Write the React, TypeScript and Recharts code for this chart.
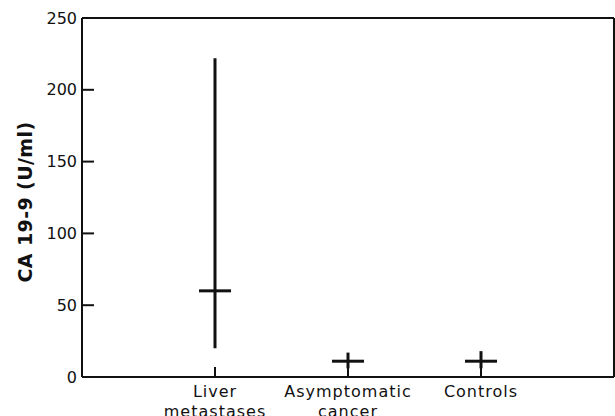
import React from 'react'
import {
  ComposedChart, Scatter, ErrorBar, XAxis, YAxis, ReferenceLine,
} from 'recharts'

// groups, placed at 1..3 on a 0..4 x scale
const categories = ['Liver metastases', 'Asymptomatic cancer', 'Controls']
const positions = [1, 2, 3]
// CA 19-9 (U/ml): median and range
const medians = [60, 11, 11]
const lows = [20, 6, 6]
const highs = [222, 17, 18]
const yTicks = [0, 50, 100, 150, 200, 250]

const data = categories.map((name, i) => ({
  name,
  x: positions[i],
  median: medians[i],
  range: [medians[i] - lows[i], highs[i] - medians[i]],
}))

const INK = '#111'
const FONT = '"DejaVu Sans", sans-serif'

const MedianMark = (props: any) => {
  const { cx, cy } = props
  if (cx == null || cy == null) return null
  return <line x1={cx - 16} x2={cx + 16} y1={cy} y2={cy} stroke={INK} strokeWidth={3} />
}

const CategoryTick = (props: any) => {
  const { x, y, payload } = props
  const idx = positions.indexOf(payload.value)
  if (idx < 0) return null
  const words = categories[idx].split(' ')
  return (
    <text x={x} y={y + 30} textAnchor="middle" fill={INK} fontSize={16} fontFamily={FONT} letterSpacing={1}>
      {words.map((w, i) => (
        <tspan key={w} x={x} dy={i === 0 ? 0 : 20}>{w}</tspan>
      ))}
    </text>
  )
}

const AxisTitle = () => (
  <text
    x={32}
    y={202}
    transform="rotate(-90 32 202)"
    textAnchor="middle"
    fill={INK}
    fontSize={19}
    fontWeight={700}
    fontFamily={FONT}
    letterSpacing={0.4}
  >
    CA 19-9 (U/ml)
  </text>
)

export default function App() {
  return (
    <div style={{ position: 'absolute', left: 0, top: 0, width: 615, height: 416, background: '#fff' }}>
      <ComposedChart width={615} height={416} data={data} margin={{ top: 18, right: 1, left: 0, bottom: 0 }}>
        <XAxis
          dataKey="x"
          type="number"
          domain={[0, 4]}
          ticks={positions}
          height={39}
          tickSize={-10}
          tickMargin={0}
          tick={<CategoryTick />}
          axisLine={{ stroke: INK, strokeWidth: 2 }}
          tickLine={{ stroke: INK, strokeWidth: 2 }}
        />
        <YAxis
          type="number"
          domain={[0, 250]}
          ticks={yTicks}
          width={82}
          tickSize={-12}
          tickMargin={17}
          tick={{ fill: INK, fontSize: 16, fontFamily: FONT }}
          axisLine={{ stroke: INK, strokeWidth: 2 }}
          tickLine={{ stroke: INK, strokeWidth: 2 }}
          label={{ content: <AxisTitle /> }}
        />
        <ReferenceLine y={250} stroke={INK} strokeWidth={2} ifOverflow="visible" />
        <ReferenceLine x={4} stroke={INK} strokeWidth={2} ifOverflow="visible" />
        <Scatter dataKey="median" shape={<MedianMark />} isAnimationActive={false}>
          <ErrorBar dataKey="range" direction="y" width={0} stroke={INK} strokeWidth={3} isAnimationActive={false} />
        </Scatter>
      </ComposedChart>
    </div>
  )
}
